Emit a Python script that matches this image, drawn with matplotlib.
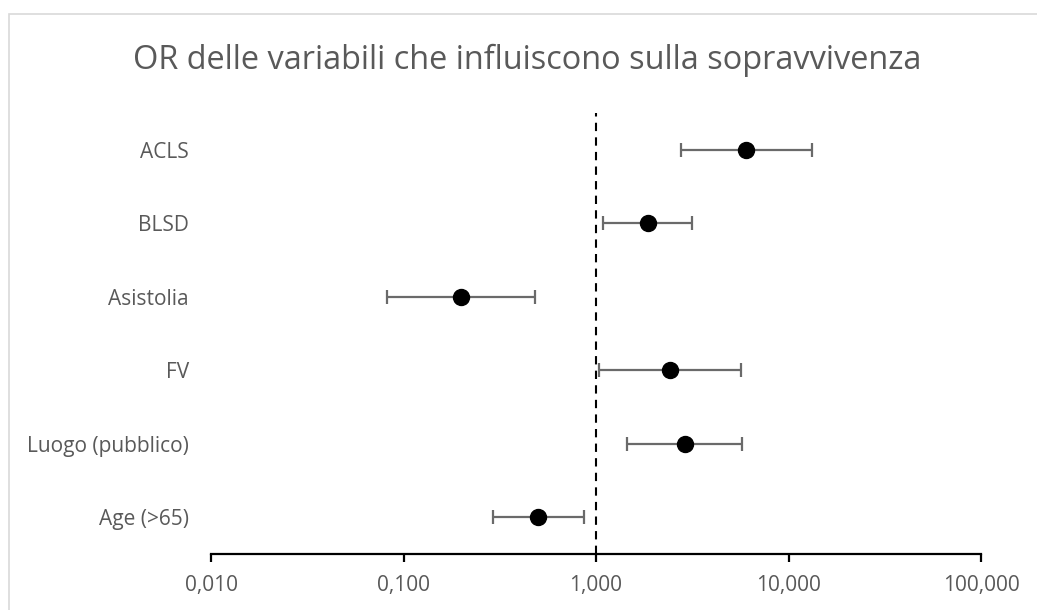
import matplotlib
matplotlib.use("Agg")
import matplotlib.pyplot as plt
from matplotlib.patches import Rectangle
from matplotlib.ticker import FixedLocator, FixedFormatter

categories = ["Age (>65)", "Luogo (pubblico)", "FV", "Asistolia", "BLSD", "ACLS"]
or_values = [0.50, 2.90, 2.42, 0.199, 1.86, 6.02]
ci_low = [0.292, 1.45, 1.04, 0.082, 1.09, 2.76]
ci_high = [0.867, 5.73, 5.66, 0.482, 3.15, 13.25]
xticks = [0.01, 0.1, 1, 10, 100]
xtick_labels = ["0,010", "0,100", "1,000", "10,000", "100,000"]
title = "OR delle variabili che influiscono sulla sopravvivenza"

W, H = 1037, 610
fig = plt.figure(figsize=(W / 100, H / 100), dpi=100)
plt.rcParams['font.family'] = ['Open Sans', 'DejaVu Sans']

ax = fig.add_axes([211 / W, 1 - 554 / H, (981 - 211) / W, (554 - 113) / H])

ypos = list(range(1, len(categories) + 1))
xerr = [[v - l for v, l in zip(or_values, ci_low)],
        [h - v for v, h in zip(or_values, ci_high)]]
ax.errorbar(or_values, ypos, xerr=xerr, fmt='o', color='black', markersize=11.5,
            ecolor='#6a6a6a', elinewidth=1.6, capsize=5, capthick=1.6, zorder=3)
ax.axvline(1, color='black', linestyle=(0, (4, 3)), linewidth=1.5, zorder=2)

ax.set_xscale('log')
ax.set_xlim(0.01, 100)
ax.set_ylim(0.5, 6.5)
ax.xaxis.set_major_locator(FixedLocator(xticks))
ax.xaxis.set_major_formatter(FixedFormatter(xtick_labels))
ax.xaxis.set_minor_locator(FixedLocator([]))
ax.set_yticks(ypos)
ax.set_yticklabels(categories)

for s in ['top', 'right', 'left']:
    ax.spines[s].set_visible(False)
ax.spines['bottom'].set_linewidth(1.6)
ax.tick_params(axis='x', direction='out', length=6, width=1.6, color='black',
               labelsize=15, labelcolor='#595959', pad=9)
ax.tick_params(axis='y', length=0, labelsize=15, labelcolor='#595959', pad=16)

fig.text(527 / W, 1 - 60 / H, title, ha='center', va='center', fontsize=23.4,
         color='#595959')

fig.patches.append(Rectangle((9 / W, -0.1), 1.2, 1 - 14 / H + 0.1, transform=fig.transFigure,
                             fill=False, edgecolor='#d9d9d9', linewidth=1.2))

fig.savefig("out.png", dpi=100)
